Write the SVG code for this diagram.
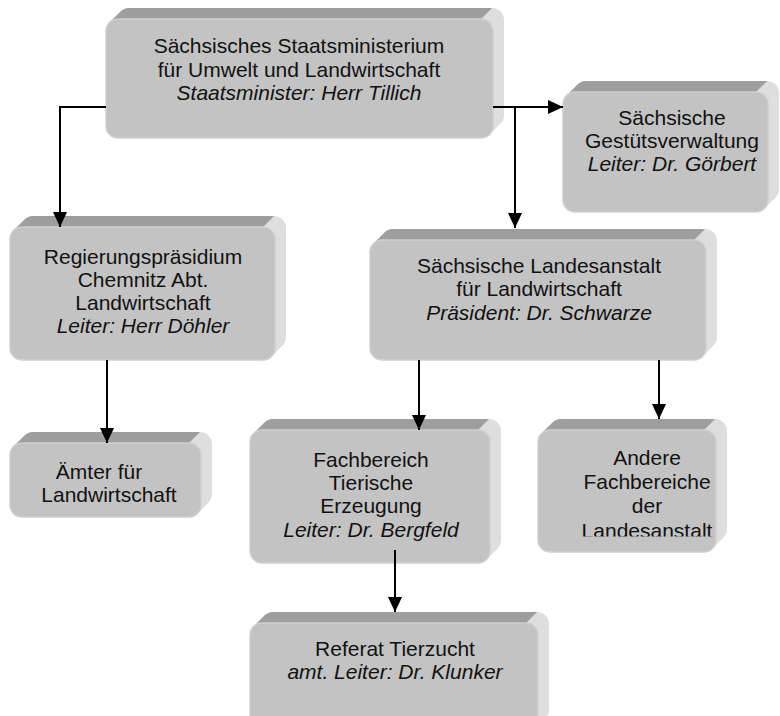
<svg xmlns="http://www.w3.org/2000/svg" width="780" height="716" viewBox="0 0 780 716">
<style>
.side{fill:#dedede}
.top{fill:#9e9e9e}
.front{fill:#c3c3c3;stroke:#d0d0d0;stroke-width:1.5}
text{font-family:"Liberation Sans",Arial,sans-serif;font-size:21px;fill:#111;text-anchor:middle}
.it{font-style:italic}
.conn{fill:none;stroke:#000;stroke-width:2;marker-end:url(#ah)}
</style>
<defs>
<marker id="ah" markerUnits="userSpaceOnUse" markerWidth="15" markerHeight="14" refX="15" refY="7" orient="auto"><path d="M0,0 L15,7 L0,14 Z" fill="#000"/></marker>
<clipPath id="clipAndere"><rect x="-20" y="0" width="240" height="106.5"/></clipPath>
</defs>
<rect width="780" height="716" fill="#fff"/>
<g id="ministerium" transform="translate(106,19)">
<path class="side" d="M3.5,3.5 L14.5,-7.5 A12,12 0 0 1 23,-11 H386 A12,12 0 0 1 398,1 V96 A12,12 0 0 1 394.5,104.5 L383.5,115.5 Z"/>
<path class="top" d="M3.5,3.5 L14.5,-7.5 A12,12 0 0 1 23,-11 H386 L375,0 H12 A12,12 0 0 0 3.5,3.5 Z"/>
<rect class="front" x="0" y="0" width="387" height="119" rx="12"/>
<text x="193" y="34">Sächsisches Staatsministerium</text>
<text x="193" y="58">für Umwelt und Landwirtschaft</text>
<text class="it" x="193" y="81">Staatsminister: Herr Tillich</text>
</g>
<g id="gestuet" transform="translate(563,92)">
<path class="side" d="M3.5,3.5 L14.5,-7.5 A12,12 0 0 1 23,-11 H204 A12,12 0 0 1 216,1 V97 A12,12 0 0 1 212.5,105.5 L201.5,116.5 Z"/>
<path class="top" d="M3.5,3.5 L14.5,-7.5 A12,12 0 0 1 23,-11 H204 L193,0 H12 A12,12 0 0 0 3.5,3.5 Z"/>
<rect class="front" x="0" y="0" width="205" height="120" rx="12"/>
<text x="109" y="33">Sächsische</text>
<text x="109" y="56">Gestütsverwaltung</text>
<text class="it" x="109" y="79">Leiter: Dr. Görbert</text>
</g>
<g id="regierung" transform="translate(10,227)">
<path class="side" d="M3.5,3.5 L14.5,-7.5 A12,12 0 0 1 23,-11 H264 A12,12 0 0 1 276,1 V110 A12,12 0 0 1 272.5,118.5 L261.5,129.5 Z"/>
<path class="top" d="M3.5,3.5 L14.5,-7.5 A12,12 0 0 1 23,-11 H264 L253,0 H12 A12,12 0 0 0 3.5,3.5 Z"/>
<rect class="front" x="0" y="0" width="265" height="133" rx="12"/>
<text x="133" y="37">Regierungspräsidium</text>
<text x="133" y="60">Chemnitz Abt.</text>
<text x="133" y="83">Landwirtschaft</text>
<text class="it" x="133" y="106">Leiter: Herr Döhler</text>
</g>
<g id="landesanstalt" transform="translate(370,240)">
<path class="side" d="M3.5,3.5 L14.5,-7.5 A12,12 0 0 1 23,-11 H335 A12,12 0 0 1 347,1 V97 A12,12 0 0 1 343.5,105.5 L332.5,116.5 Z"/>
<path class="top" d="M3.5,3.5 L14.5,-7.5 A12,12 0 0 1 23,-11 H335 L324,0 H12 A12,12 0 0 0 3.5,3.5 Z"/>
<rect class="front" x="0" y="0" width="336" height="120" rx="12"/>
<text x="169" y="33">Sächsische Landesanstalt</text>
<text x="169" y="56">für Landwirtschaft</text>
<text class="it" x="169" y="80">Präsident: Dr. Schwarze</text>
</g>
<g id="aemter" transform="translate(10,443)">
<path class="side" d="M3.5,3.5 L14.5,-7.5 A12,12 0 0 1 23,-11 H190 A12,12 0 0 1 202,1 V51 A12,12 0 0 1 198.5,59.5 L187.5,70.5 Z"/>
<path class="top" d="M3.5,3.5 L14.5,-7.5 A12,12 0 0 1 23,-11 H190 L179,0 H12 A12,12 0 0 0 3.5,3.5 Z"/>
<rect class="front" x="0" y="0" width="191" height="74" rx="12"/>
<text x="89" y="36">Ämter für</text>
<text x="99" y="59">Landwirtschaft</text>
</g>
<g id="fachbereich" transform="translate(250,430)">
<path class="side" d="M3.5,3.5 L14.5,-7.5 A12,12 0 0 1 23,-11 H239 A12,12 0 0 1 251,1 V110 A12,12 0 0 1 247.5,118.5 L236.5,129.5 Z"/>
<path class="top" d="M3.5,3.5 L14.5,-7.5 A12,12 0 0 1 23,-11 H239 L228,0 H12 A12,12 0 0 0 3.5,3.5 Z"/>
<rect class="front" x="0" y="0" width="240" height="133" rx="12"/>
<text x="121" y="37">Fachbereich</text>
<text x="121" y="60">Tierische</text>
<text x="121" y="83">Erzeugung</text>
<text class="it" x="121" y="107">Leiter: Dr. Bergfeld</text>
</g>
<g id="andere" transform="translate(538,430)">
<path class="side" d="M3.5,3.5 L14.5,-7.5 A12,12 0 0 1 23,-11 H177 A12,12 0 0 1 189,1 V99 A12,12 0 0 1 185.5,107.5 L174.5,118.5 Z"/>
<path class="top" d="M3.5,3.5 L14.5,-7.5 A12,12 0 0 1 23,-11 H177 L166,0 H12 A12,12 0 0 0 3.5,3.5 Z"/>
<rect class="front" x="0" y="0" width="178" height="122" rx="12"/>
<g clip-path="url(#clipAndere)">
<text x="109" y="35">Andere</text>
<text x="109" y="59">Fachbereiche</text>
<text x="109" y="83">der</text>
<text x="109" y="108">Landesanstalt</text>
</g>
</g>
<g id="referat" transform="translate(250,623)">
<path class="side" d="M3.5,3.5 L14.5,-7.5 A12,12 0 0 1 23,-11 H287 A12,12 0 0 1 299,1 V87 A12,12 0 0 1 295.5,95.5 L284.5,106.5 Z"/>
<path class="top" d="M3.5,3.5 L14.5,-7.5 A12,12 0 0 1 23,-11 H287 L276,0 H12 A12,12 0 0 0 3.5,3.5 Z"/>
<rect class="front" x="0" y="0" width="288" height="110" rx="12"/>
<text x="145" y="33">Referat Tierzucht</text>
<text class="it" x="145" y="56">amt. Leiter: Dr. Klunker</text>
</g>
<g id="connectors">
<path class="conn" d="M106,107 H60 V227"/>
<path class="conn" d="M493,107 H563"/>
<path class="conn" d="M515,107 V228"/>
<path class="conn" d="M107,360 V443"/>
<path class="conn" d="M419,360 V430"/>
<path class="conn" d="M659,360 V419"/>
<path class="conn" d="M395,550 V612"/>
</g>
</svg>
